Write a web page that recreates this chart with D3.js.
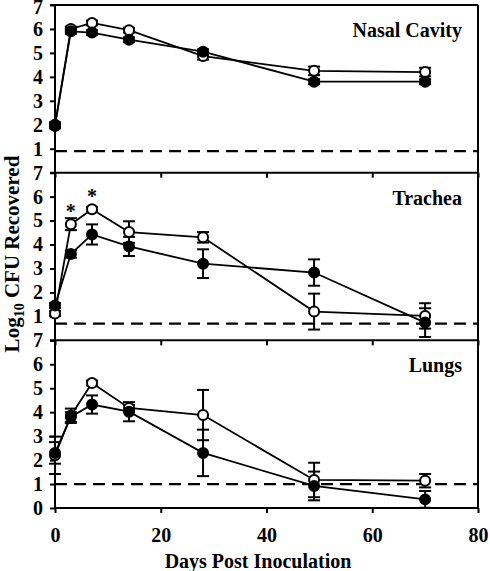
<!DOCTYPE html>
<html>
<head>
<meta charset="utf-8">
<script src="https://cdn.jsdelivr.net/npm/d3@7"></script>
<style>
  html, body { margin: 0; padding: 0; background: #fff; }
  svg { display: block; }
  text { font-family: "Liberation Serif", "Times New Roman", serif; font-weight: bold; fill: #000; }
</style>
</head>
<body>
<svg id="chart" width="490" height="571"></svg>
<script>
// ---- Data ----
const days = [0, 3, 7, 14, 28, 49, 70];
const panelNames = ["Nasal Cavity", "Trachea", "Lungs"];
const detectionLimits = [0.9, 0.7, 1.0];

const nasalOpen = [1.95, 6.0, 6.25, 5.95, 4.87, 4.25, 4.2];
const nasalOpenErr = [0.1, 0.1, 0.1, 0.1, 0.15, 0.18, 0.18];
const nasalFilled = [2.0, 5.9, 5.85, 5.55, 5.05, 3.8, 3.8];
const nasalFilledErr = [0.1, 0.1, 0.1, 0.1, 0.1, 0.1, 0.1];

const tracheaOpen = [1.12, 4.85, 5.47, 4.52, 4.3, 1.2, 1.02];
const tracheaOpenErr = [0.1, 0.25, 0.1, 0.45, 0.22, 0.75, 0.53];
const tracheaFilled = [1.45, 3.6, 4.42, 3.92, 3.2, 2.83, 0.74];
const tracheaFilledErr = [0.1, 0.15, 0.42, 0.4, 0.6, 0.55, 0.6];

const lungsOpen = [2.2, 3.85, 5.22, 4.18, 3.88, 1.17, 1.14];
const lungsOpenErr = [0.78, 0.3, 0.1, 0.12, 1.05, 0.72, 0.28];
const lungsFilled = [2.3, 3.8, 4.32, 4.02, 2.3, 0.92, 0.36];
const lungsFilledErr = [0.45, 0.2, 0.38, 0.4, 0.97, 0.6, 0.35];

const tracheaSignificantDays = [3, 7];

const xTicks = [0, 20, 40, 60, 80];
const yTicks = [0, 1, 2, 3, 4, 5, 6, 7];

// ---- Build panel table ----
const panels = [
  { name: panelNames[0], limit: detectionLimits[0], open: nasalOpen, openErr: nasalOpenErr, filled: nasalFilled, filledErr: nasalFilledErr, stars: [] },
  { name: panelNames[1], limit: detectionLimits[1], open: tracheaOpen, openErr: tracheaOpenErr, filled: tracheaFilled, filledErr: tracheaFilledErr, stars: tracheaSignificantDays },
  { name: panelNames[2], limit: detectionLimits[2], open: lungsOpen, openErr: lungsOpenErr, filled: lungsFilled, filledErr: lungsFilledErr, stars: [] }
];

// ---- Layout ----
const plotLeft = 55, plotRight = 478, plotTop = 5, plotBottom = 508;
const panelH = (plotBottom - plotTop) / 3;
const svg = d3.select("#chart");
const x = d3.scaleLinear().domain([0, 80]).range([plotLeft, plotRight]);

const FS = 20;
const r = 5;

panels.forEach((p, i) => {
  const y0 = plotTop + i * panelH;
  const y = d3.scaleLinear().domain([0, 7]).range([y0 + panelH, y0]);
  const g = svg.append("g");

  if (i === 0) {
    g.append("line").attr("x1", plotLeft).attr("x2", plotRight).attr("y1", y0).attr("y2", y0)
      .attr("stroke", "#000").attr("stroke-width", 2);
  }
  g.append("line").attr("x1", plotRight).attr("x2", plotRight).attr("y1", y0).attr("y2", y0 + panelH)
    .attr("stroke", "#000").attr("stroke-width", 2);

  g.append("line").attr("x1", plotLeft).attr("x2", plotRight)
    .attr("y1", y(p.limit)).attr("y2", y(p.limit))
    .attr("stroke", "#000").attr("stroke-width", 2.2).attr("stroke-dasharray", "12,7");

  const yAxis = d3.axisLeft(y).tickValues(yTicks).tickSize(5).tickPadding(7)
    .tickFormat(d => (i < 2 && d === 0) ? "" : d3.format("d")(d));
  const ya = g.append("g").attr("transform", `translate(${plotLeft},0)`).call(yAxis);
  ya.select(".domain").attr("stroke-width", 2).attr("d", `M-5,${y0}H0V${y0 + panelH}`);
  ya.selectAll(".tick line").attr("stroke-width", 2);
  ya.selectAll(".tick text").attr("font-size", FS).attr("font-family", "Liberation Serif").attr("font-weight", "bold");
  if (i === 0) {
    // keep the topmost label inside the picture
    ya.selectAll(".tick text").filter(d => d === 7).attr("dy", "0.42em");
  }

  const xAxis = d3.axisBottom(x).tickValues(xTicks).tickSize(5).tickPadding(15)
    .tickFormat(d => i === 2 ? d3.format("d")(d) : "");
  const xa = g.append("g").attr("transform", `translate(0,${y0 + panelH})`).call(xAxis);
  xa.select(".domain").attr("stroke-width", 2).attr("d", `M${plotLeft},0H${plotRight}`);
  xa.selectAll(".tick line").attr("stroke-width", 2);
  xa.selectAll(".tick text").attr("font-size", FS).attr("font-family", "Liberation Serif").attr("font-weight", "bold");

  g.append("text").attr("x", 462).attr("y", y0 + 32).attr("text-anchor", "end")
    .attr("font-size", FS).text(p.name);

  const openPts = days.map((d, k) => ({ d, v: p.open[k], e: p.openErr[k] }));
  const filledPts = days.map((d, k) => ({ d, v: p.filled[k], e: p.filledErr[k] }));

  const line = d3.line().x(q => x(q.d)).y(q => y(q.v));

  const drawErr = (pts) => {
    const eg = g.append("g").attr("stroke", "#000").attr("stroke-width", 2);
    pts.forEach(q => {
      eg.append("line").attr("x1", x(q.d)).attr("x2", x(q.d)).attr("y1", y(q.v - q.e)).attr("y2", y(q.v + q.e));
      [q.v - q.e, q.v + q.e].forEach(v => {
        eg.append("line").attr("x1", x(q.d) - 6).attr("x2", x(q.d) + 6).attr("y1", y(v)).attr("y2", y(v));
      });
    });
  };
  drawErr(openPts);
  drawErr(filledPts);

  g.append("path").datum(openPts).attr("d", line).attr("fill", "none").attr("stroke", "#000").attr("stroke-width", 1.8);
  g.append("path").datum(filledPts).attr("d", line).attr("fill", "none").attr("stroke", "#000").attr("stroke-width", 1.8);

  g.selectAll(".open").data(openPts).enter().append("circle")
    .attr("cx", q => x(q.d)).attr("cy", q => y(q.v)).attr("r", r)
    .attr("fill", "#fff").attr("stroke", "#000").attr("stroke-width", 2);
  g.selectAll(".filled").data(filledPts).enter().append("circle")
    .attr("cx", q => x(q.d)).attr("cy", q => y(q.v)).attr("r", r)
    .attr("fill", "#000").attr("stroke", "#000").attr("stroke-width", 2);

  p.stars.forEach(sd => {
    const k = days.indexOf(sd);
    g.append("text").attr("x", x(sd)).attr("y", y(p.open[k]) - 6).attr("text-anchor", "middle")
      .attr("font-size", FS).text("*");
  });
});

svg.append("text").attr("x", 258).attr("y", 568).attr("text-anchor", "middle")
  .attr("font-size", FS).text("Days Post Inoculation");

const yl = svg.append("text").attr("transform", "translate(19,254) rotate(-90)")
  .attr("text-anchor", "middle").attr("font-size", 21);
yl.append("tspan").text("Log");
yl.append("tspan").attr("font-size", 14).attr("dy", 5).text("10");
yl.append("tspan").attr("dy", -5).text(" CFU Recovered");
</script>
</body>
</html>
